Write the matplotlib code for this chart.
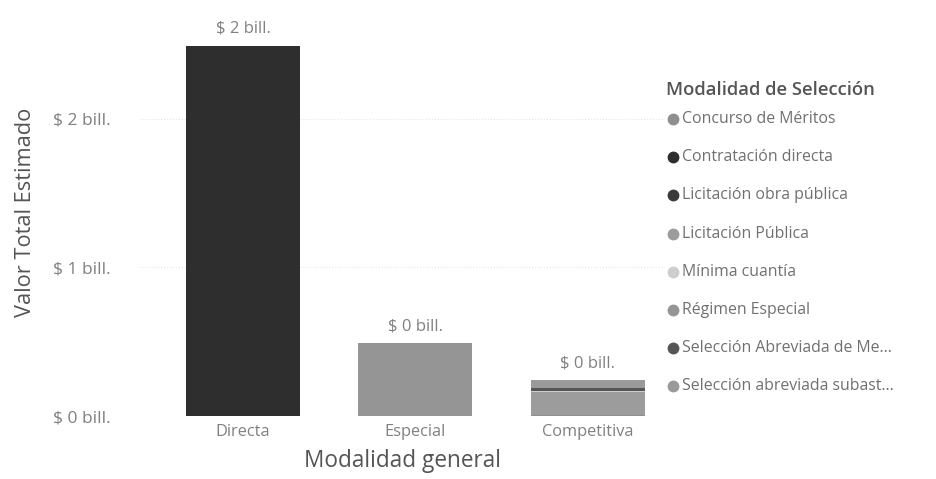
import matplotlib
matplotlib.use('Agg')
import matplotlib.pyplot as plt
from matplotlib import ticker
from matplotlib.lines import Line2D
import numpy as np

plt.rcParams['font.family'] = ['Open Sans', 'DejaVu Sans']

# categorias del eje x y series apiladas (billones)
categorias = ['Directa', 'Especial', 'Competitiva']
modalidades = ['Concurso de Méritos', 'Contratación directa', 'Licitación obra pública',
               'Licitación Pública', 'Mínima cuantía', 'Régimen Especial',
               'Selección Abreviada de Me...', 'Selección abreviada subast...']
colores = ['#8f8f8f', '#2e2e2e', '#3a3a3a', '#9c9c9c', '#cdcdcd', '#959595', '#555555', '#9a9a9a']

concurso = [0.00, 0.00, 0.01]
contratacion_directa = [2.49, 0.00, 0.00]
licitacion_obra = [0.00, 0.00, 0.00]
licitacion_publica = [0.00, 0.00, 0.15]
minima_cuantia = [0.00, 0.00, 0.01]
regimen_especial = [0.00, 0.49, 0.00]
seleccion_abreviada_me = [0.00, 0.00, 0.02]
seleccion_abreviada_sub = [0.00, 0.00, 0.05]

series = [concurso, contratacion_directa, licitacion_obra, licitacion_publica,
          minima_cuantia, regimen_especial, seleccion_abreviada_me, seleccion_abreviada_sub]
yticks = [0, 1, 2]

W, H = 937, 479
fig = plt.figure(figsize=(W / 100, H / 100), dpi=100)
ax = fig.add_axes([0.149, 0.1315, 0.561, 0.795])

x = np.arange(len(categorias))
bottom = np.zeros(len(categorias))
for vals, col in zip(series, colores):
    vals = np.array(vals)
    ax.bar(x, vals, bottom=bottom, width=0.66, color=col, linewidth=0)
    bottom += vals

totales = bottom
for xi, t in zip(x, totales):
    ax.text(xi, t + 0.06, "$ %.0f bill." % t, ha='center', va='bottom',
            fontsize=12, color='#808080', clip_on=False)

ax.set_xlim(-0.6, 2.45)
ax.set_ylim(0, 2.56)
ax.set_yticks(yticks)
ax.yaxis.set_major_formatter(ticker.FuncFormatter(lambda v, pos: "$ %.0f bill." % v))
ax.set_xticks(x)
ax.set_xticklabels(categorias)
ax.tick_params(axis='y', length=0, labelsize=12.5, labelcolor='#808080', pad=21)
ax.tick_params(axis='x', length=0, labelsize=11.8, labelcolor='#808080', pad=6)
for s in ax.spines.values():
    s.set_visible(False)
ax.grid(axis='y', color='#e6e6e6', linestyle=':', linewidth=0.8)
ax.set_axisbelow(True)

ax.set_ylabel('Valor Total Estimado', fontsize=15.7, color='#555555')
ax.yaxis.set_label_coords(-0.198, 0.535)
ax.set_xlabel('Modalidad general', fontsize=16.3, color='#555555', labelpad=6)

# leyenda a la derecha
fig.text(666 / W, 1 - 90 / H, 'Modalidad de Selección', fontsize=13.3, fontweight='semibold',
         color='#555555', ha='left', va='center')
for i, (lab, col) in enumerate(zip(modalidades, colores)):
    yy = 1 - (119 + 38.2 * i) / H
    fig.add_artist(Line2D([673 / W], [yy], marker='o', markersize=7.5, linestyle='',
                          markerfacecolor=col, markeredgecolor=col, transform=fig.transFigure))
    fig.text(682 / W, yy, lab, fontsize=11.4, color='#707070', ha='left', va='center')

plt.savefig('out.png', dpi=100)
